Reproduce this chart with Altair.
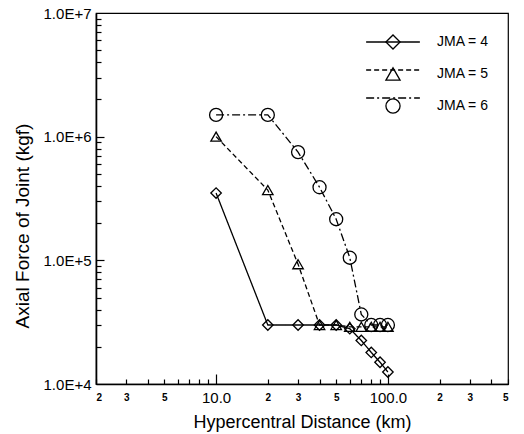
import altair as alt
import pandas as pd

# Hypercentral distance (km) at which the joint force was evaluated
distance_km = [10, 20, 30, 40, 50, 60, 70, 80, 90, 100]

# Axial force of joint (kgf) for each JMA seismic intensity
force_jma4 = [3.5e5, 3.0e4, 3.0e4, 3.0e4, 3.0e4, 2.8e4, 2.25e4, 1.8e4, 1.5e4, 1.25e4]
force_jma5 = [1.0e6, 3.7e5, 9.3e4, 3.0e4, 3.0e4, 2.9e4, 2.9e4, 2.9e4, 2.9e4, 2.9e4]
force_jma6 = [1.5e6, 1.5e6, 7.5e5, 3.9e5, 2.15e5, 1.05e5, 3.65e4, 3.0e4, 3.0e4, 3.0e4]

series_names = ["JMA = 4", "JMA = 5", "JMA = 6"]

# Axis labels and tick positions (log scales)
x_label_values = [2, 3, 5, 10, 20, 30, 50, 100, 200, 300, 500]
x_minor_ticks = [2, 3, 4, 5, 6, 7, 8, 9,
                 20, 30, 40, 50, 60, 70, 80, 90,
                 200, 300, 400, 500]
x_major_ticks = [10, 100]
y_label_values = [1e4, 1e5, 1e6, 1e7]
y_minor_ticks = [k * 10 ** e for e in (4, 5, 6) for k in range(2, 10)]
y_major_ticks = [1e5, 1e6]

rows = []
for name, values in zip(series_names, [force_jma4, force_jma5, force_jma6]):
    for d, f in zip(distance_km, values):
        rows.append({"distance": d, "force": f, "series": name})
df = pd.DataFrame(rows)

W, H = 412, 371
FONT = "Liberation Sans"

x_scale = alt.Scale(type="log", domain=[2, 500], nice=False)
y_scale = alt.Scale(type="log", domain=[1e4, 1e7], nice=False)
dash_scale = alt.Scale(domain=series_names, range=[[1, 0], [5, 3], [8, 3, 2, 3]])
shape_scale = alt.Scale(domain=series_names, range=["diamond", "triangle-up", "circle"])

legend_common = dict(
    orient="none", legendX=289, legendY=21, title=None, padding=0,
    symbolSize=200, symbolStrokeColor="black", symbolStrokeWidth=1.3,
    labelFont=FONT, labelFontSize=14, labelColor="black",
    labelOffset=36, rowPadding=13,
)

x_major_test = "datum.value == 10 || datum.value == 100"

# Labelled axes (bottom / left) without ticks
x_label_axis = alt.Axis(
    values=x_label_values, ticks=False, tickSize=0, grid=False,
    domainColor="black", domainWidth=1.6,
    labelExpr="datum.value == 10 ? '10.0' : datum.value == 100 ? '100.0' : substring(toString(datum.value), 0, 1)",
    labelFont=FONT, labelColor="black", labelBaseline="middle", labelPadding=13,
    labelFontSize={"condition": {"test": x_major_test, "value": 15}, "value": 10},
    labelFontWeight={"condition": {"test": x_major_test, "value": "normal"}, "value": "bold"},
    title="Hypercentral Distance (km)", titleFont=FONT, titleFontSize=18,
    titleFontWeight="normal", titleColor="black",
    titleX=W / 2, titleY=38, titleBaseline="middle", titleAlign="center",
)
y_label_axis = alt.Axis(
    values=y_label_values, ticks=False, tickSize=0, grid=False,
    domainColor="black", domainWidth=1.6,
    labelExpr="'1.0E+' + round(log(datum.value) / LN10)",
    labelFont=FONT, labelFontSize=15, labelColor="black", labelPadding=5,
    labelBaseline="middle",
    title="Axial Force of Joint (kgf)", titleFont=FONT, titleFontSize=19,
    titleFontWeight="normal", titleColor="black",
    titleX=-74, titleY=H / 2 + 27, titleAngle=-90,
    titleBaseline="middle", titleAlign="center",
)


def inward_x_axis(values, size):
    # top-oriented axis pulled down onto the bottom edge so its ticks point into the plot
    return alt.Axis(orient="top", offset=-H, values=values, labels=False, domain=False,
                    grid=False, title=None, tickColor="black", tickWidth=1.2, tickSize=size)


def inward_y_axis(values, size):
    # right-oriented axis pulled onto the left edge so its ticks point into the plot
    return alt.Axis(orient="right", offset=-W, values=values, labels=False, domain=False,
                    grid=False, title=None, tickColor="black", tickWidth=1.2, tickSize=size)


lines = alt.Chart(df).transform_calculate(
    line_key="datum.series"
).mark_line(color="black", strokeWidth=1.3).encode(
    x=alt.X("distance:Q", scale=x_scale, axis=x_label_axis),
    y=alt.Y("force:Q", scale=y_scale, axis=y_label_axis),
    strokeDash=alt.StrokeDash(
        "line_key:N", scale=dash_scale,
        legend=alt.Legend(symbolType="M-3.8,0H3.8", labelExpr="''", **legend_common),
    ),
    order="distance:Q",
)

points = alt.Chart(df).mark_point(
    filled=False, color="black", strokeWidth=1.3, opacity=1
).encode(
    x=alt.X("distance:Q", scale=x_scale, axis=inward_x_axis(x_minor_ticks, 5)),
    y=alt.Y("force:Q", scale=y_scale, axis=inward_y_axis(y_minor_ticks, 5)),
    shape=alt.Shape("series:N", scale=shape_scale, legend=alt.Legend(**legend_common)),
    size=alt.condition(alt.datum.series == "JMA = 6", alt.value(170), alt.value(110)),
)

# carrier layer for the longer decade ticks
major = alt.Chart(df).mark_point(opacity=0).encode(
    x=alt.X("distance:Q", scale=x_scale, axis=inward_x_axis(x_major_ticks, 10)),
    y=alt.Y("force:Q", scale=y_scale, axis=inward_y_axis(y_major_ticks, 8)),
)

chart = alt.layer(lines, points, major).resolve_axis(
    x="independent", y="independent"
).resolve_legend(
    strokeDash="independent", shape="independent"
).properties(
    width=W, height=H,
    padding={"left": 96, "top": 13, "right": 16, "bottom": 50},
    autosize=alt.AutoSizeParams(type="none"),
    background="white",
).configure_view(
    stroke="black", strokeWidth=1.2
)

chart.save("out.html", embed_options={"renderer": "svg", "actions": False})
